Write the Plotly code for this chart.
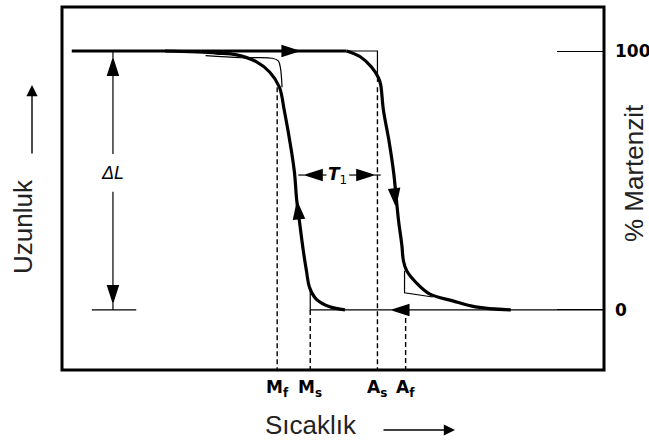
import plotly.graph_objects as go

# ---------------- data (temperature in arbitrary units 0..100 across the frame, % martensite) ----------------
temp_range = [0, 100]
pct_range = [-23.2, 117.0]

transition_names = ["M<sub>f</sub>", "M<sub>s</sub>", "A<sub>s</sub>", "A<sub>f</sub>"]
transition_temps = [39.7, 45.8, 58.2, 63.4]
transition_dash_top = [86.0, 0.0, 86.0, 0.0]

right_tick_vals = [0, 100]
right_tick_text = ["0", "100"]

# upper plateau (thick)
plateau_T = [1.8, 52.5]
plateau_M = [100, 100]

# measured cooling branch (thick)
cool_T = [19.0, 28.5, 32.2, 35.9, 38.3, 40.1, 41.0, 42.3, 42.9, 43.3, 43.8, 44.5, 45.1, 45.7, 46.9, 49.4, 52.2]
cool_M = [100, 99.2, 98.5, 95.8, 91.9, 86.1, 77.2, 61.8, 52.9, 42.5, 34.4, 23.2, 15.1, 8.5, 4.2, 1.2, 0]

# measured heating branch (thick)
heat_T = [52.5, 55.1, 57.1, 58.4, 58.8, 59.3, 60.3, 61.2, 61.7, 62.1, 62.7, 63.0, 63.6, 65.4, 67.8, 72.1, 76.3, 82.8]
heat_M = [100, 97.7, 93.8, 89.6, 86.9, 77.2, 65.6, 52.9, 42.5, 34.4, 25.1, 18.9, 15.1, 10.4, 6.2, 3.5, 1.2, 0]

# idealised loop (thin)
ideal_cool_top_T = [26.5, 33.0, 38.8, 39.9, 40.3, 40.6]
ideal_cool_top_M = [98.2, 97.4, 97.2, 96.2, 93.5, 86.0]
ideal_cool_bot_T = [45.8, 45.8, 100.0]
ideal_cool_bot_M = [7.3, 0.0, 0.0]
ideal_heat_top_T = [52.5, 58.2, 58.2]
ideal_heat_top_M = [100.0, 100.0, 88.0]
ideal_heat_bot_T = [63.2, 63.2, 68.4]
ideal_heat_bot_M = [15.1, 6.6, 5.0]

# delta L dimension
dL_T = 9.4
dL_upper_M = [100, 60.2]
dL_lower_M = [45.6, 0]
dL_base_T = [5.5, 13.7]
dL_label_M = 52.9

# T1 (hysteresis width) dimension
t1_M = 52.1
t1_left_T = [48.8, 43.6]
t1_right_T = [53.0, 58.8]
t1_label_T = 50.8

# arrowheads along the loop and dimension lines
head_T = [43.6, 43.4, 61.6, 61.0, dL_T, dL_T, 45.0, 57.4]
head_M = [100, 41.5, 40.5, 0, 96.9, 3.1, t1_M, t1_M]
head_angle = [90, -6, 174, 270, 0, 180, 270, 90]

# ---------------- figure ----------------
L, R, T, B = 62, 45, 7, 72
W, H = 649, 442
PW, PH = W - L - R, H - T - B


def px(x):
    return (x - L) / PW


def py(y):
    return (H - B - y) / PH


BLACK = "black"
FAMILY = "Liberation Sans, Arial, Helvetica, sans-serif"
BOLD_FAMILY = "DejaVu Sans"
thick = dict(color=BLACK, width=3.2)
thin = dict(color=BLACK, width=1.2)

fig = go.Figure()


def line(x, y, style, yaxis="y", dash=None):
    st = dict(style)
    if dash:
        st["dash"] = dash
    fig.add_trace(go.Scatter(x=x, y=y, mode="lines", line=st, hoverinfo="skip",
                             showlegend=False, yaxis=yaxis,
                             line_shape="spline" if len(x) > 3 else "linear"))


line(ideal_cool_top_T, ideal_cool_top_M, thin)
line(ideal_cool_bot_T, ideal_cool_bot_M, thin, yaxis="y2")
line(ideal_heat_top_T, ideal_heat_top_M, thin)
line(ideal_heat_bot_T, ideal_heat_bot_M, thin)

for t, top in zip(transition_temps, transition_dash_top):
    line([t, t], [top, pct_range[0]], dict(color=BLACK, width=1.4), dash="5px,3px")

line(plateau_T, plateau_M, thick)
line(cool_T, cool_M, thick)
line(heat_T, heat_M, thick)

line([dL_T, dL_T], dL_upper_M, thin)
line([dL_T, dL_T], dL_lower_M, thin)
line(dL_base_T, [0, 0], thin)
line(t1_left_T, [t1_M, t1_M], thin)
line(t1_right_T, [t1_M, t1_M], thin)

fig.add_trace(go.Scatter(x=head_T, y=head_M, mode="markers", hoverinfo="skip", showlegend=False,
                         marker=dict(symbol="arrow", size=17, angle=head_angle, color=BLACK,
                                     line=dict(width=1.5, color=BLACK))))

fig.add_annotation(x=dL_T, y=dL_label_M, xref="x", yref="y", text="<i>ΔL</i>", showarrow=False,
                   font=dict(family=FAMILY, size=18, color=BLACK))
fig.add_annotation(x=t1_label_T, y=t1_M, xref="x", yref="y", text="<b><i>T</i></b><sub>1</sub>",
                   showarrow=False, font=dict(family=BOLD_FAMILY, size=17, color=BLACK))

# bold tick labels (bottom: transition temperatures, right: % martensite)
bold_font = dict(family=BOLD_FAMILY, size=17, color=BLACK, weight="bold")
for t, name in zip(transition_temps, transition_names):
    fig.add_annotation(x=t, y=0, xref="x", yref="paper", yanchor="top", yshift=-5,
                       text=name, showarrow=False, font=bold_font)
for v, name in zip(right_tick_vals, right_tick_text):
    fig.add_annotation(x=1, y=v, xref="paper", yref="y", xanchor="left", xshift=9,
                       text=name, showarrow=False, font=bold_font)

label_font = dict(family=FAMILY, size=26, color="#222")
fig.add_annotation(x=px(6), y=py(227), xref="paper", yref="paper", text="Uzunluk", textangle=-90,
                   xanchor="left", showarrow=False, font=label_font)
fig.add_annotation(x=px(32), y=py(85), xref="paper", yref="paper", text="", showarrow=True,
                   ax=0, ay=70, arrowhead=2, arrowsize=1.6, arrowwidth=1.4, arrowcolor=BLACK)
fig.add_annotation(x=px(649), y=py(173), xref="paper", yref="paper", text="% Martenzit", textangle=-90,
                   xanchor="right", xshift=2, showarrow=False, font=label_font)
fig.add_annotation(x=px(311), y=py(442), xref="paper", yref="paper", text="Sıcaklık",
                   yanchor="bottom", showarrow=False, font=label_font)
fig.add_annotation(x=px(455), y=py(430), xref="paper", yref="paper", text="", showarrow=True,
                   ax=-73, ay=0, arrowhead=2, arrowsize=1.6, arrowwidth=1.4, arrowcolor=BLACK)

fig.add_shape(type="rect", xref="paper", yref="paper", x0=0, y0=0, x1=1, y1=1,
              line=dict(color=BLACK, width=3))

fig.update_layout(
    width=W, height=H, margin=dict(l=L, r=R, t=T, b=B, pad=0),
    paper_bgcolor="white", plot_bgcolor="white",
    font=dict(family=FAMILY),
    xaxis=dict(range=temp_range, showgrid=False, zeroline=False, showline=False,
               showticklabels=False, ticks=""),
    yaxis=dict(range=pct_range, showgrid=False, zeroline=False, showline=False,
               showticklabels=False, ticks=""),
    yaxis2=dict(range=pct_range, overlaying="y", side="right", showgrid=False, zeroline=False,
                showline=False, tickvals=right_tick_vals, showticklabels=False,
                ticks="inside", ticklen=47, tickwidth=1.2, tickcolor=BLACK),
)

fig.write_html("out.html")
